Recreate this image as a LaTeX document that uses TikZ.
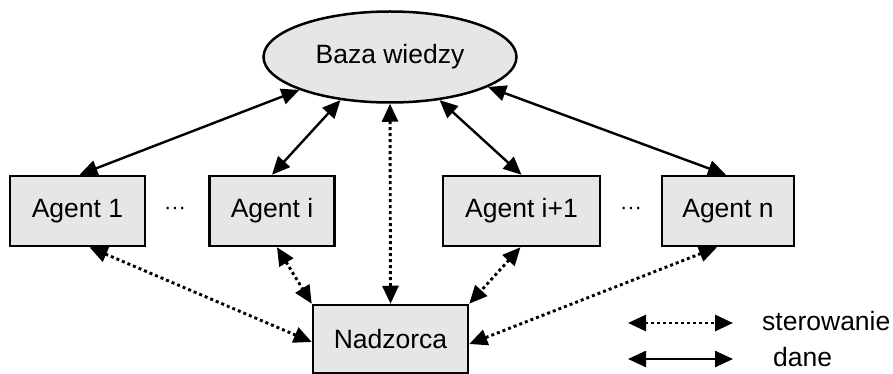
\documentclass[tikz,border=0pt]{standalone}
\usepackage{fontspec}
\setmainfont{Liberation Sans}
\usetikzlibrary{shapes.geometric,arrows.meta}
\definecolor{boxfill}{HTML}{E6E6E6}
\begin{document}
\begin{tikzpicture}[x=1pt,y=-1pt,
  every node/.style={font=\fontsize{26.5}{31}\selectfont},
  agentbox/.style={draw,line width=2.5pt,fill=boxfill,rectangle,inner sep=0pt},
  datalink/.style={line width=2.4pt,{Triangle[length=18pt,width=16pt]}-{Triangle[length=18pt,width=16pt]}},
  ctrllink/.style={line width=2.9pt,dash pattern=on 3pt off 3pt,{Triangle[length=18pt,width=16pt]}-{Triangle[length=18pt,width=16pt]}},
  dotsnode/.style={font=\fontsize{22}{26}\selectfont}]
\useasboundingbox (0,0) rectangle (893,374);
\node[ellipse,draw,line width=2.5pt,fill=boxfill,minimum width=253pt,minimum height=91pt,inner sep=0pt] (bw) at (390,57) {Baza wiedzy};
\node[agentbox,minimum width=135pt,minimum height=70pt] (a1) at (77.5,211) {Agent 1};
\node[agentbox,minimum width=125pt,minimum height=70pt] (ai) at (272,211) {Agent i};
\node[agentbox,minimum width=157pt,minimum height=70pt] (ai1) at (521.5,211) {Agent i+1};
\node[agentbox,minimum width=132pt,minimum height=70pt] (an) at (728,211) {Agent n};
\node[agentbox,minimum width=155pt,minimum height=68pt] (nz) at (390.5,339) {Nadzorca};
\node[dotsnode] (d1) at (175,211) {\textperiodcentered\textperiodcentered\textperiodcentered};
\node[dotsnode] (d2) at (631,211) {\textperiodcentered\textperiodcentered\textperiodcentered};
% data links
\draw[datalink] ([xshift=2pt]a1.north) -- (bw.200);
\draw[datalink] (ai.north) -- (bw.221);
\draw[datalink] (ai1.north) -- (bw.319);
\draw[datalink] ([xshift=-2pt]an.north) -- (bw.343);
% control links
\draw[ctrllink] (bw.south) -- (nz.north);
\draw[ctrllink] ([xshift=12pt]a1.south) -- ([yshift=-3pt]nz.west);
\draw[ctrllink] ([xshift=5pt]ai.south) -- (nz.north west);
\draw[ctrllink] ([xshift=-1pt]ai1.south) -- (nz.north east);
\draw[ctrllink] ([xshift=-11pt]an.south) -- ([yshift=-5pt]nz.east);
% legend
\coordinate (l1a) at (628,323);
\coordinate (l1b) at (733,323);
\coordinate (l2a) at (628,359);
\coordinate (l2b) at (733,359);
\draw[ctrllink] (l1a) -- (l1b);
\draw[datalink] (l2a) -- (l2b);
\node[anchor=west,inner sep=0pt] (lt1) at (762,321) {sterowanie};
\node[anchor=west,inner sep=0pt] (lt2) at (773,357) {dane};
\end{tikzpicture}
\end{document}
